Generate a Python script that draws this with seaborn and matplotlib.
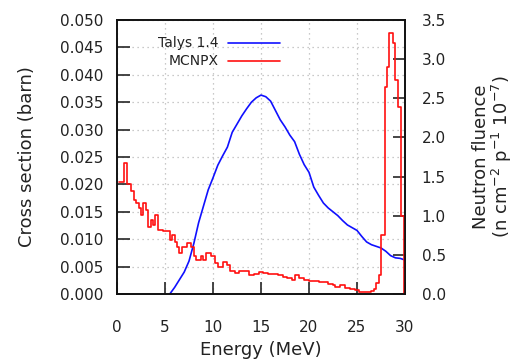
import numpy as np
import pandas as pd
import seaborn as sns
import matplotlib.pyplot as plt
from matplotlib.lines import Line2D

# Talys 1.4 cross section (barn) vs energy (MeV)
talys_e = [5.5, 6.0, 6.5, 7.0, 7.5, 8.0, 8.5, 9.0, 9.5, 10.0, 10.5, 11.0, 11.5, 12.0,
           12.5, 13.0, 13.5, 14.0, 14.5, 15.0, 15.5, 16.0, 16.5, 17.0, 17.5, 18.0,
           18.5, 19.0, 19.5, 20.0, 20.5, 21.0, 21.5, 22.0, 22.5, 23.0, 23.5, 24.0,
           24.5, 25.0, 25.5, 26.0, 26.5, 27.0, 27.5, 28.0, 28.5, 29.0, 29.5, 30.0]
talys_xs = [0.0, 0.0012, 0.0026, 0.0040, 0.0060, 0.0092, 0.0130, 0.0160, 0.0190, 0.0212,
            0.0235, 0.0252, 0.0268, 0.0295, 0.0310, 0.0325, 0.0338, 0.0350, 0.0358, 0.0363,
            0.0360, 0.0352, 0.0335, 0.0318, 0.0305, 0.0290, 0.0278, 0.0255, 0.0236, 0.0222,
            0.0195, 0.0180, 0.0166, 0.0157, 0.0150, 0.0143, 0.0134, 0.0126, 0.0121, 0.0116,
            0.0105, 0.0095, 0.0090, 0.0087, 0.0084, 0.0078, 0.0070, 0.0066, 0.0065, 0.0062]

# MCNPX neutron fluence (n cm-2 p-1 1e-7), histogram left edges
mcnpx_e = [0.25, 0.75, 1.0, 1.5, 1.75, 2.0, 2.25, 2.5, 2.75, 3.0, 3.25, 3.5, 3.75, 4.0,
           4.25, 4.75, 5.25, 5.5, 5.75, 6.0, 6.25, 6.5, 6.75, 7.25, 7.75, 8.0, 8.25, 8.75,
           9.0, 9.25, 9.75, 10.25, 10.5, 11.0, 11.5, 11.75, 12.25, 12.75, 13.25, 13.75,
           14.25, 14.75, 15.25, 15.75, 16.25, 16.75, 17.25, 17.75, 18.25, 18.5, 19.0, 19.5,
           20.0, 20.5, 21.0, 21.5, 22.0, 22.5, 22.75, 23.25, 23.75, 24.25, 24.75, 25.25,
           26.0, 26.5, 26.75, 27.0, 27.25, 27.5, 27.9, 28.1, 28.3, 28.8, 29.0, 29.25,
           29.6, 29.9, 30.0]
mcnpx_flu = [1.43, 1.67, 1.41, 1.31, 1.20, 1.16, 1.10, 1.01, 1.16, 1.07, 0.86, 0.94, 0.88, 1.01,
             0.82, 0.80, 0.80, 0.69, 0.75, 0.67, 0.60, 0.52, 0.60, 0.65, 0.60, 0.48, 0.43, 0.48,
             0.43, 0.52, 0.48, 0.39, 0.35, 0.41, 0.37, 0.29, 0.27, 0.29, 0.29, 0.24,
             0.26, 0.28, 0.27, 0.26, 0.26, 0.24, 0.22, 0.20, 0.18, 0.24, 0.20, 0.18,
             0.17, 0.16, 0.15, 0.15, 0.13, 0.12, 0.09, 0.11, 0.08, 0.07, 0.05, 0.02,
             0.02, 0.04, 0.07, 0.14, 0.24, 0.75, 2.65, 2.90, 3.33, 3.20, 2.73, 2.39,
             0.99, 0.0, 0.0]

talys = pd.DataFrame({'E': talys_e, 'xs': talys_xs})
mcnpx = pd.DataFrame({'E': mcnpx_e, 'flu': mcnpx_flu})

sns.set_style('white')
plt.rcParams['font.family'] = ['DejaVu Sans']
txt = '#222222'

fig = plt.figure(figsize=(5.17, 3.63), dpi=100)
ax = fig.add_axes([117/517, 1-294/363, 288/517, 274/363])
ax2 = ax.twinx()

sns.lineplot(data=talys, x='E', y='xs', ax=ax, color='#1010ff', lw=1.2,
             estimator=None)
sns.lineplot(data=mcnpx, x='E', y='flu', ax=ax2, color='#ff1010', lw=1.2,
             drawstyle='steps-post', estimator=None)

ax.set_xlim(0, 30)
ax.set_ylim(0, 0.05)
ax2.set_ylim(0, 3.5)
ax.set_xticks(np.arange(0, 31, 5))
ax.set_yticks(np.arange(0, 0.0501, 0.005))
ax.set_yticklabels([f'{v:.3f}' for v in np.arange(0, 0.0501, 0.005)])
ax2.set_yticks(np.arange(0, 3.51, 0.5))
ax2.set_yticklabels([f'{v:.1f}' for v in np.arange(0, 3.51, 0.5)])

ax.grid(True, color='#b8b8b8', linestyle=(0, (1, 3)), lw=0.9)
ax.tick_params(axis='x', direction='in', length=9, width=1.2, pad=18.5,
               labelsize=11, labelcolor=txt, top=False, bottom=True)
ax.tick_params(axis='y', direction='in', length=9, width=1.2, pad=10,
               labelsize=11, labelcolor=txt, left=True, right=False)
ax2.tick_params(axis='y', direction='in', length=9, width=1.2, pad=12,
                labelsize=11, labelcolor=txt, right=True)
for a in (ax, ax2):
    for s in a.spines.values():
        s.set_color('#111111')
        s.set_linewidth(1.2)

ax.set_xlabel('Energy (MeV)', fontsize=13, color=txt, va='center')
ax.xaxis.set_label_coords(0.5, -0.205)
ax.set_ylabel('Cross section (barn)', fontsize=13, color=txt, va='center')
ax.yaxis.set_label_coords(-0.312, 0.5)
ax2.set_ylabel('Neutron fluence\n(n cm$^{-2}$ p$^{-1}$ 10$^{-7}$)', fontsize=13,
               color=txt, va='center', rotation=90, linespacing=1.0)
ax2.yaxis.set_label_coords(1.305, 0.5)

# key, gnuplot style: right-aligned text followed by line sample
ax.text(0.354, 0.916, 'Talys 1.4', transform=ax.transAxes, ha='right', va='center',
        fontsize=10, color=txt)
ax.text(0.354, 0.850, 'MCNPX', transform=ax.transAxes, ha='right', va='center',
        fontsize=10, color=txt)
ax.add_line(Line2D([0.385, 0.566], [0.916, 0.916], transform=ax.transAxes,
                   color='#1010ff', lw=1.2))
ax.add_line(Line2D([0.385, 0.566], [0.850, 0.850], transform=ax.transAxes,
                   color='#ff1010', lw=1.2))

fig.savefig('out.png', dpi=100, facecolor='white')
